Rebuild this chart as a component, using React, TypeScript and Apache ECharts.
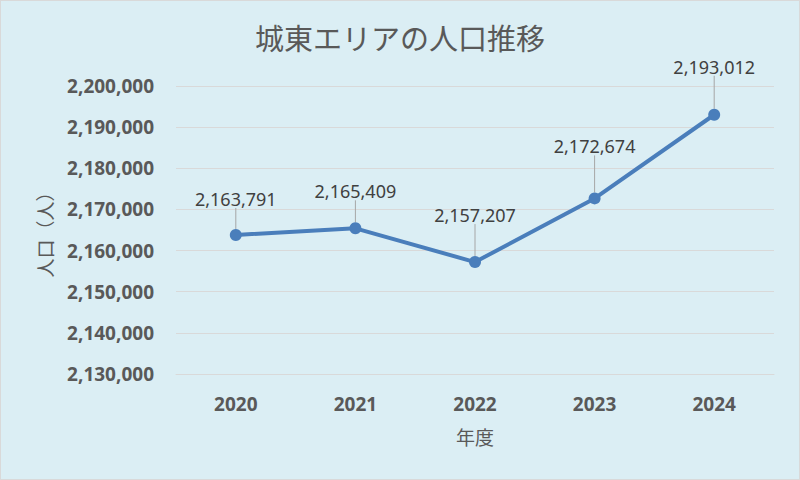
import React, { useEffect, useRef } from "react";
import * as echarts from "echarts";

const years = ["2020", "2021", "2022", "2023", "2024"];
const population = [2163791, 2165409, 2157207, 2172674, 2193012];
const yTickMin = 2130000;
const yTickMax = 2200000;
const yTickStep = 10000;

const labelShift = [-16, -17, -27, -32, -28];

export default function App() {
  const ref = useRef<HTMLDivElement>(null);
  useEffect(() => {
    if (!ref.current) return;
    const chart = echarts.init(ref.current, undefined, { renderer: "svg" });
    const fmt = (v: number) => v.toLocaleString("en-US");
    chart.setOption({
      animation: false,
      backgroundColor: "#DBEEF4",
      title: {
        text: "城東エリアの人口推移",
        left: "center",
        top: 16,
        textStyle: {
          fontFamily: "Noto Sans CJK JP",
          fontSize: 29,
          fontWeight: "normal",
          color: "#595959",
        },
      },
      grid: { left: 175, right: 25, top: 85, bottom: 105 },
      xAxis: {
        type: "category",
        data: years,
        name: "年度",
        nameLocation: "middle",
        nameGap: 53,
        nameTextStyle: {
          fontFamily: "Noto Sans CJK JP",
          fontSize: 19,
          color: "#595959",
          verticalAlign: "top",
        },
        axisLine: { show: true, lineStyle: { color: "#d9d9d9", width: 1 } },
        axisTick: { show: false },
        axisLabel: {
          margin: 20,
          fontFamily: "Noto Sans",
          fontWeight: "bold",
          fontSize: 19,
          color: "#595959",
        },
      },
      yAxis: {
        type: "value",
        min: yTickMin,
        max: yTickMax,
        interval: yTickStep,
        name: "人口（人）",
        nameLocation: "middle",
        nameGap: 122,
        nameRotate: 90,
        nameTextStyle: {
          fontFamily: "Noto Sans CJK JP",
          fontSize: 19,
          color: "#595959",
        },
        axisLine: { show: false },
        axisTick: { show: false },
        splitLine: { lineStyle: { color: "#d9d9d9", width: 1 } },
        axisLabel: {
          margin: 22,
          formatter: (v: number) => fmt(v),
          fontFamily: "Noto Sans",
          fontWeight: "bold",
          fontSize: 19,
          color: "#595959",
        },
      },
      series: [
        {
          type: "line",
          data: population,
          symbol: "circle",
          symbolSize: 12,
          lineStyle: { color: "#4A7EBB", width: 4 },
          itemStyle: { color: "#4A7EBB" },
          label: {
            show: true,
            position: "top",
            distance: 5,
            formatter: (p: any) => fmt(p.value),
            fontFamily: "Noto Sans",
            fontSize: 18,
            color: "#404040",
          },
          labelLine: {
            show: true,
            lineStyle: { color: "#a6a6a6", width: 1 },
          },
          labelLayout: (p: any) => ({ dy: labelShift[p.dataIndex] }),
        },
      ],
    });
    return () => chart.dispose();
  }, []);
  return (
    <div
      style={{
        position: "fixed",
        left: 0,
        top: 0,
        width: 800,
        height: 480,
        boxSizing: "border-box",
        border: "1px solid #d9d9d9",
        background: "#DBEEF4",
      }}
    >
      <div ref={ref} style={{ width: 798, height: 478 }} />
    </div>
  );
}
